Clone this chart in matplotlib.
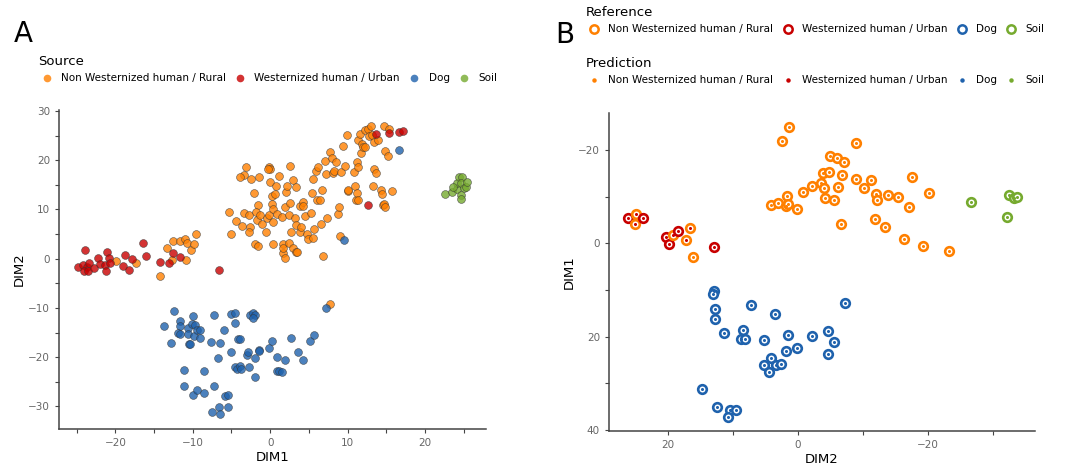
import matplotlib
matplotlib.use("Agg")
import matplotlib.pyplot as plt
from matplotlib.lines import Line2D
from matplotlib.ticker import MultipleLocator

categories = ["Non Westernized human / Rural", "Westernized human / Urban", "Dog", "Soil"]
colors = ["#ff8000", "#c80000", "#1f62ad", "#76aa2f"]

# Panel A: DIM1 / DIM2 per source
rural_x = [-5.3, -5.1, -4.4, -3.7, -3.4, -3.1, -3.4, -3.9, -2.8, -2.5, -2.6, -2.7, -2.1, -1.6, -1.8,
           -1.7, -1.9, -1.6, -1.4, -1.3, -1.1, -0.6, -0.4, -0.2, -0.1, 0.0, -0.3, 0.0, 0.2, 0.3,
           0.4, 0.4, 0.6, 0.8, 0.9, 1.1, 0.4, 1.5, 1.6, 1.6, 1.9, 1.7, 1.9, 2.0, 2.2, 2.4, 2.4,
           2.5, 2.6, 2.7, 2.9, 3.0, 3.2, 3.4, 3.4, 3.3, 3.5, 3.8, 3.9, 4.0, 4.2, 4.3, 4.5, 4.7,
           4.9, 5.3, 5.4, 5.5, 5.6, 5.7, 5.9, 6.2, 6.1, 6.4, 6.6, 6.7, 6.8, 7.1, 7.2, 7.3, 7.8,
           8.0, 8.1, 8.3, 8.5, 8.8, 8.9, 9.0, 9.2, 9.4, 9.7, 9.9, 10.0, 10.1, 10.8, 11.0, 11.1,
           11.2, 11.2, 11.3, 11.4, 11.4, 11.6, 11.7, 11.9, 12.0, 12.2, 12.3, 12.7, 12.8, 13.1,
           13.2, 13.3, 13.4, 13.4, 13.7, 14.0, 14.3, 14.4, 14.6, 14.7, 14.9, 14.9, 15.2, 14.7,
           15.3, 15.7,
           -19.9, -17.3, -13.4, -12.7, -12.6, -11.7, -11.0, -10.8, -10.9, -10.2, -9.8, -9.6,
           -14.3, 7.8]
rural_y = [9.5, 5.1, 7.7, 6.6, 9.2, 18.6, 17.0, 16.6, 8.9, 16.1, 6.4, 5.5, 13.4, 10.9, 9.5,
           7.8, 3.0, 2.6, 16.5, 8.9, 7.0, 5.5, 8.2, 8.9, 18.6, 18.3, 18.2, 15.6, 12.8, 11.2,
           10.0, 7.5, 13.1, 14.7, 9.0, 16.8, 2.9, 8.5, 3.0, 1.1, 0.2, 2.2, 10.4, 13.6, 14.7, 8.9, 3.1,
           11.4, 18.9, 5.5, 15.9, 2.2, 8.2, 14.5, 1.4, 6.8, 1.4, 10.7, 5.5, 6.5, 11.6, 10.7, 8.6, 5.1,
           3.9, 9.2, 13.4, 16.1, 4.3, 6.1, 17.8, 18.6, 12.0, 12.0, 7.0, 13.9, 0.5, 19.8, 17.2, 8.2, 21.7,
           20.5, 17.4, 17.8, 19.7, 9.0, 10.5, 4.6, 17.6, 22.8, 18.9, 25.1, 13.8, 13.9, 17.6, 14.7, 12.0,
           13.4, 19.7, 18.6, 11.9, 24.1, 25.4, 21.4, 23.2, 22.7, 26.2, 22.7, 26.4, 24.9, 26.9,
           25.1, 14.7, 23.7, 18.3, 17.4, 24.1, 13.9, 13.1, 10.9, 11.2, 10.5, 21.9, 20.8, 27.0,
           26.4, 13.8,
           -0.5, -0.8, 2.1, -0.3, 3.6, 3.6, 4.1, 3.2, -0.3, 1.8, 3.0, 5.1,
           -3.6, -9.2]

urban_x = [-24.8, -24.2, -23.9, -23.7, -24.1, -23.5, -23.4, -22.8, -22.2, -22.0, -21.3, -21.2,
           -21.1, -20.8, -20.7, -19.0, -18.8, -18.3, -17.8, -16.4, -16.0, -14.3, -13.1, -12.5,
           -11.7, -6.6, 13.7, 15.3, 16.6, 17.2, 12.6]
urban_y = [-1.6, -1.3, 1.8, -1.6, -2.6, -2.6, -0.8, -1.8, 0.1, -1.1, -1.3, -2.6,
           1.4, 0.1, -0.9, -1.4, 0.7, -2.3, -0.1, 3.1, 0.5, -0.6, -0.8, 1.1,
           0.4, -2.4, 25.4, 25.6, 25.7, 25.9, 11.0]

dog_x = [-12.4, -13.7, -11.6, -11.6, -11.9, -11.6, -12.8, -10.6, -10.6, -10.0, -10.1, -9.7,
         -9.9, -10.5, -10.3, -9.4, -9.1, -9.1, -7.7, -7.2, -6.0, -6.5, -6.8, -5.1, -4.6, -4.5,
         -5.0, -4.2, -3.9, -4.5, -4.3, -3.9, -3.8, -2.8, -2.6, -2.2, -1.9, -2.2, -3.0, -2.9,
         -1.9, -1.9, -1.5, -1.4, -0.1, 0.3, 0.9, 0.9, 1.2, 1.5, 1.9, 2.7, 3.6, 4.2, 5.1, 5.7,
         7.2, -11.2, -11.1, -10.0, -9.5, -8.5, -8.5, -7.2, -5.9, -5.5, -6.6, -7.5, -6.5, -5.5,
         16.7, 9.6]
dog_y = [-10.7, -13.7, -12.7, -13.7, -15.0, -15.2, -17.1, -14.0, -15.4, -11.7, -13.2, -13.4,
         -15.7, -17.3, -17.3, -14.4, -14.4, -16.2, -17.0, -11.5, -14.5, -17.2, -20.1, -11.3,
         -11.0, -13.1, -19.0, -16.4, -16.4, -22.1, -22.4, -21.7, -22.4, -22.1, -11.5, -11.1,
         -11.5, -12.1, -19.6, -18.9, -20.1, -24.1, -18.6, -18.8, -18.1, -16.7, -19.9, -22.9,
         -22.8, -23.1, -20.5, -16.2, -18.9, -20.5, -16.8, -15.6, -10.0, -22.6, -25.8, -27.6,
         -26.6, -22.9, -27.3, -25.8, -27.8, -27.6, -30.1, -31.1, -31.5, -30.2,
         22.0, 3.8]

soil_x = [22.6, 23.5, 24.1, 24.1, 24.4, 24.8, 24.7, 25.0, 25.3, 25.4, 24.7, 24.7, 23.7]
soil_y = [13.2, 13.5, 14.2, 15.3, 16.5, 16.5, 15.3, 14.3, 14.5, 15.5, 13.0, 12.2, 14.5]

# Panel B: reference (ring) and prediction (dot) class per sample
b_dim2 = [26.1, 24.9, 25.1, 23.8, 20.3, 19.9, 19.2, 18.4, 17.3, 16.6, 16.1, 13.0,
          1.4, 2.4, -9.0, -5.0, -6.0, -7.1, -3.8, -4.7, -6.8, -8.9, -11.3, -17.5, -3.5, -2.1,
          -4.0, -6.1, -10.1, -0.8, -12.0, -13.8, -15.4, -20.2, 1.7, -4.2, -5.5, -12.2, 4.2,
          3.1, 1.8, 1.5, 0.1, -17.1, -6.7, -11.8, -13.4, -16.4, -19.2, -23.2,
          -26.7, -32.5, -33.3, -33.8, -32.2,
          12.9, 13.1, 12.8, 12.8, 11.4, 8.5, 8.7, 8.1, 7.3, 5.3, 3.5, 1.6, 0.2, 1.8, 4.2, 5.2,
          4.5, 3.4, 2.6, -2.2, -4.6, -5.6, -4.6, -7.2, 14.8, 12.5, 10.5, 9.6, 10.8]
b_dim1 = [-5.5, -6.4, -4.1, -5.5, -1.4, 0.2, -1.9, -2.6, -0.7, -3.4, 2.9, 0.7,
          -25.0, -22.0, -21.6, -18.7, -18.4, -17.4, -15.1, -15.4, -14.6, -13.9, -13.5, -14.3,
          -12.9, -12.2, -11.9, -12.0, -11.9, -11.1, -10.6, -10.4, -10.0, -10.7, -10.1, -9.8,
          -9.4, -9.4, -8.3, -8.7, -8.0, -8.4, -7.3, -7.8, -4.1, -5.3, -3.6, -0.9, 0.5, 1.6,
          -8.9, -10.4, -9.7, -9.9, -5.6,
          10.1, 10.8, 14.1, 16.1, 19.1, 18.6, 20.5, 20.5, 13.3, 20.8, 15.1, 19.6, 22.4, 23.1,
          24.6, 26.0, 27.5, 26.1, 25.9, 19.9, 18.8, 21.1, 23.6, 12.8, 31.1, 35.1, 35.6, 35.8,
          37.1]
b_ref = [1, 0, 0, 1, 1, 1, 0, 1, 0, 0, 0, 1] + [0] * 38 + [3] * 5 + [2] * 29
b_pred = [1, 1, 1, 1, 1, 1, 1, 1, 1, 1, 0, 1] + [0] * 38 + [3] * 5 + [2] * 29

fig = plt.figure(figsize=(10.69, 4.65), dpi=100)
axA = fig.add_axes([0.0552, 0.0774, 0.3994, 0.686])
axB = fig.add_axes([0.5697, 0.0731, 0.3985, 0.6845])

# A: scatter by source
groups = [(rural_x, rural_y), (urban_x, urban_y), (dog_x, dog_y), (soil_x, soil_y)]
for (gx, gy), c in zip(groups, colors):
    axA.scatter(gx, gy, s=32, color=c, alpha=0.8, edgecolors="#333333", linewidths=0.4, zorder=3)
axA.set_xlim(-27.3, 27.9)
axA.set_ylim(-34.6, 30.2)
axA.xaxis.set_major_locator(MultipleLocator(10))
axA.xaxis.set_minor_locator(MultipleLocator(5))
axA.yaxis.set_major_locator(MultipleLocator(10))
axA.yaxis.set_minor_locator(MultipleLocator(5))
axA.set_xlabel("DIM1", fontsize=9.5, labelpad=2)
axA.set_ylabel("DIM2", fontsize=9.5, labelpad=2)

# B: reference ring + prediction dot
for r, p, x, y in zip(b_ref, b_pred, b_dim2, b_dim1):
    axB.plot(x, y, "o", ms=6.2, mfc="white", mec=colors[r], mew=1.9, zorder=2)
    axB.plot(x, y, "o", ms=2.2, mfc=colors[p], mec=colors[p], mew=0, zorder=3)
axB.set_xlim(29.1, -36.5)
axB.set_ylim(40.2, -28)
axB.xaxis.set_major_locator(MultipleLocator(20))
axB.xaxis.set_minor_locator(MultipleLocator(10))
axB.yaxis.set_major_locator(MultipleLocator(20))
axB.yaxis.set_minor_locator(MultipleLocator(10))
axB.set_xlabel("DIM2", fontsize=9.5, labelpad=2)
axB.set_ylabel("DIM1", fontsize=9.5, labelpad=2)

for ax in (axA, axB):
    for side in ("top", "right"):
        ax.spines[side].set_visible(False)
    for side in ("left", "bottom"):
        ax.spines[side].set_color("#444444")
        ax.spines[side].set_linewidth(1.1)
    ax.tick_params(which="both", direction="out", color="#444444", labelcolor="#666666",
                   labelsize=7.5, width=0.8, length=3)

# legends
leg_kw = dict(loc="upper left", ncol=4, frameon=False, fontsize=7.5, title_fontsize=9.5,
              handlelength=1.6, handletextpad=0.55, columnspacing=0.6, borderpad=0,
              alignment="left")
src_handles = [Line2D([], [], ls="", marker="o", ms=5.5, mfc=c, mec="none", alpha=0.8) for c in colors]
fig.legend(src_handles, categories, title="Source", bbox_to_anchor=(0.031, 0.893), **leg_kw)

ref_handles = [Line2D([], [], ls="", marker="o", ms=6, mfc="white", mec=c, mew=1.8) for c in colors]
fig.legend(ref_handles, categories, title="Reference", bbox_to_anchor=(0.543, 0.998), **leg_kw)
pred_handles = [Line2D([], [], ls="", marker="o", ms=2.2, mfc=c, mec=c) for c in colors]
fig.legend(pred_handles, categories, title="Prediction", bbox_to_anchor=(0.543, 0.888), **leg_kw)

fig.text(0.013, 0.91, "A", fontsize=20, va="baseline")
fig.text(0.519, 0.908, "B", fontsize=20, va="baseline")

fig.savefig("out.png", dpi=100)
